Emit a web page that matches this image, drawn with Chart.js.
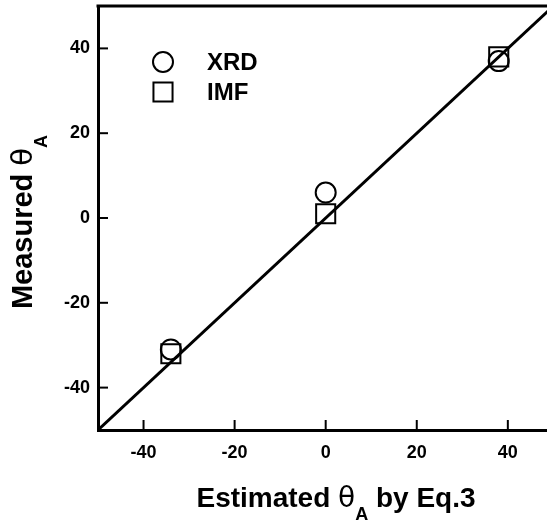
<!DOCTYPE html>
<html><head><meta charset="utf-8">
<script src="https://cdn.jsdelivr.net/npm/chart.js@4/dist/chart.umd.min.js"></script>
<style>html,body{margin:0;padding:0;background:#fff;overflow:hidden}canvas{display:block}</style>
</head><body>
<canvas id="c" width="547" height="525"></canvas>
<script>
// ---- data ----
const seriesNames = ['XRD', 'IMF'];
const xrdX = [-34, 0, 38];
const xrdY = [-31, 6, 37];
const imfX = [-34, 0, 38];
const imfY = [-32, 1, 38];
const fitX = [-50, 50];
const fitY = [-50, 50];
const tickValues = [-40, -20, 0, 20, 40];
const xTitle = ['Estimated ', 'θ', 'A', ' by Eq.3'];
const yTitle = ['Measured ', 'θ', 'A'];

const FONT = '"Liberation Sans", Arial, Helvetica, sans-serif';
const toPts = (xs, ys) => xs.map((x, i) => ({x: x, y: ys[i]}));

const extras = {
  id: 'extras',
  afterDraw(chart) {
    const ctx = chart.ctx, ca = chart.chartArea;
    const xs = chart.scales.x, ys = chart.scales.y;
    ctx.save();
    ctx.strokeStyle = '#000';
    ctx.lineCap = 'butt';
    // top border
    ctx.lineWidth = 3;
    ctx.beginPath(); ctx.moveTo(ca.left - 1.5, ca.top); ctx.lineTo(ca.right, ca.top); ctx.stroke();
    // inward ticks
    ctx.lineWidth = 2;
    xs.ticks.forEach(t => {
      const px = xs.getPixelForValue(t.value);
      ctx.beginPath(); ctx.moveTo(px, ca.bottom); ctx.lineTo(px, ca.bottom - 10); ctx.stroke();
    });
    ys.ticks.forEach(t => {
      const py = ys.getPixelForValue(t.value);
      ctx.beginPath(); ctx.moveTo(ca.left, py); ctx.lineTo(ca.left + 10, py); ctx.stroke();
    });
    // legend
    let k = 0;
    chart.data.datasets.forEach((ds) => {
      if (!seriesNames.includes(ds.label)) return;
      const cy = 62 + k * 30; k++;
      ctx.lineWidth = ds.pointBorderWidth;
      ctx.strokeStyle = '#000';
      ctx.fillStyle = 'rgba(0,0,0,0)';
      Chart.helpers.drawPoint(ctx, {pointStyle: ds.pointStyle, radius: ds.pointRadius, rotation: 0, borderWidth: ds.pointBorderWidth}, 163, cy);
      ctx.fillStyle = '#000';
      ctx.font = 'bold 24px ' + FONT;
      ctx.textAlign = 'left';
      ctx.textBaseline = 'middle';
      ctx.fillText(ds.label, 207, cy + 1);
    });
    // titles
    const parts = (arr, big, small) => [
      {t: arr[0], f: 'bold ' + big + 'px ' + FONT, dy: 0},
      {t: arr[1], f: big + 'px "DejaVu Sans", ' + FONT, dy: 0},
      {t: arr[2], f: 'bold ' + small + 'px ' + FONT, dy: 13},
    ].concat(arr[3] ? [{t: arr[3], f: 'bold ' + big + 'px ' + FONT, dy: 0}] : []);
    ctx.fillStyle = '#000';
    ctx.textBaseline = 'alphabetic';
    ctx.textAlign = 'left';
    // x title
    let p = parts(xTitle, 28, 18);
    let w = 0; p.forEach(q => { ctx.font = q.f; q.w = ctx.measureText(q.t).width; w += q.w; });
    let x0 = 336 - w / 2;
    p.forEach(q => { ctx.font = q.f; ctx.fillText(q.t, x0, 507 + q.dy); x0 += q.w; });
    // y title
    p = parts(yTitle, 29, 18);
    w = 0; p.forEach(q => { ctx.font = q.f; q.w = ctx.measureText(q.t).width; w += q.w; });
    ctx.translate(32, 222);
    ctx.rotate(-Math.PI / 2);
    x0 = -w / 2;
    p.forEach(q => { ctx.font = q.f; ctx.fillText(q.t, x0, q.dy + (q.dy ? 2 : 0)); x0 += q.w; });
    ctx.restore();
  }
};

const tickFont = {family: FONT, size: 18, weight: 'bold'};
new Chart(document.getElementById('c'), {
  type: 'scatter',
  data: {
    datasets: [
      {label: 'fit', type: 'line', data: toPts(fitX, fitY), borderColor: '#000', borderWidth: 3,
       pointRadius: 0, fill: false, tension: 0, order: 3},
      {label: seriesNames[0], data: toPts(xrdX, xrdY), pointStyle: 'circle', pointRadius: 10,
       pointBorderWidth: 2, borderColor: '#000', backgroundColor: 'rgba(0,0,0,0)', order: 1},
      {label: seriesNames[1], data: toPts(imfX, imfY), pointStyle: 'rect', pointRadius: 13.5,
       pointBorderWidth: 2, borderColor: '#000', backgroundColor: 'rgba(0,0,0,0)', order: 2}
    ]
  },
  options: {
    responsive: false,
    animation: false,
    devicePixelRatio: 1,
    events: [],
    layout: {autoPadding: false, padding: {top: 6, right: 0, left: 0, bottom: 0}},
    plugins: {legend: {display: false}, tooltip: {enabled: false}},
    scales: {
      x: {
        type: 'linear', min: -50, max: 48.6,
        grid: {display: false, drawTicks: false},
        border: {display: true, color: '#000', width: 3},
        afterBuildTicks: s => { s.ticks = tickValues.map(v => ({value: v})); },
        afterFit: s => { s.height = 95; s.paddingRight = 0; s.paddingLeft = 0; },
        ticks: {color: '#000', font: tickFont, padding: 12, maxRotation: 0, autoSkip: false,
                callback: v => String(v)}
      },
      y: {
        type: 'linear', min: -50, max: 50,
        grid: {display: false, drawTicks: false},
        border: {display: true, color: '#000', width: 3},
        afterBuildTicks: s => { s.ticks = tickValues.map(v => ({value: v})); },
        afterFit: s => { s.width = 98; s.paddingTop = 0; s.paddingBottom = 0; },
        ticks: {color: '#000', font: tickFont, padding: 8, autoSkip: false,
                callback: v => String(v)}
      }
    }
  },
  plugins: [extras]
});
</script>
</body></html>
